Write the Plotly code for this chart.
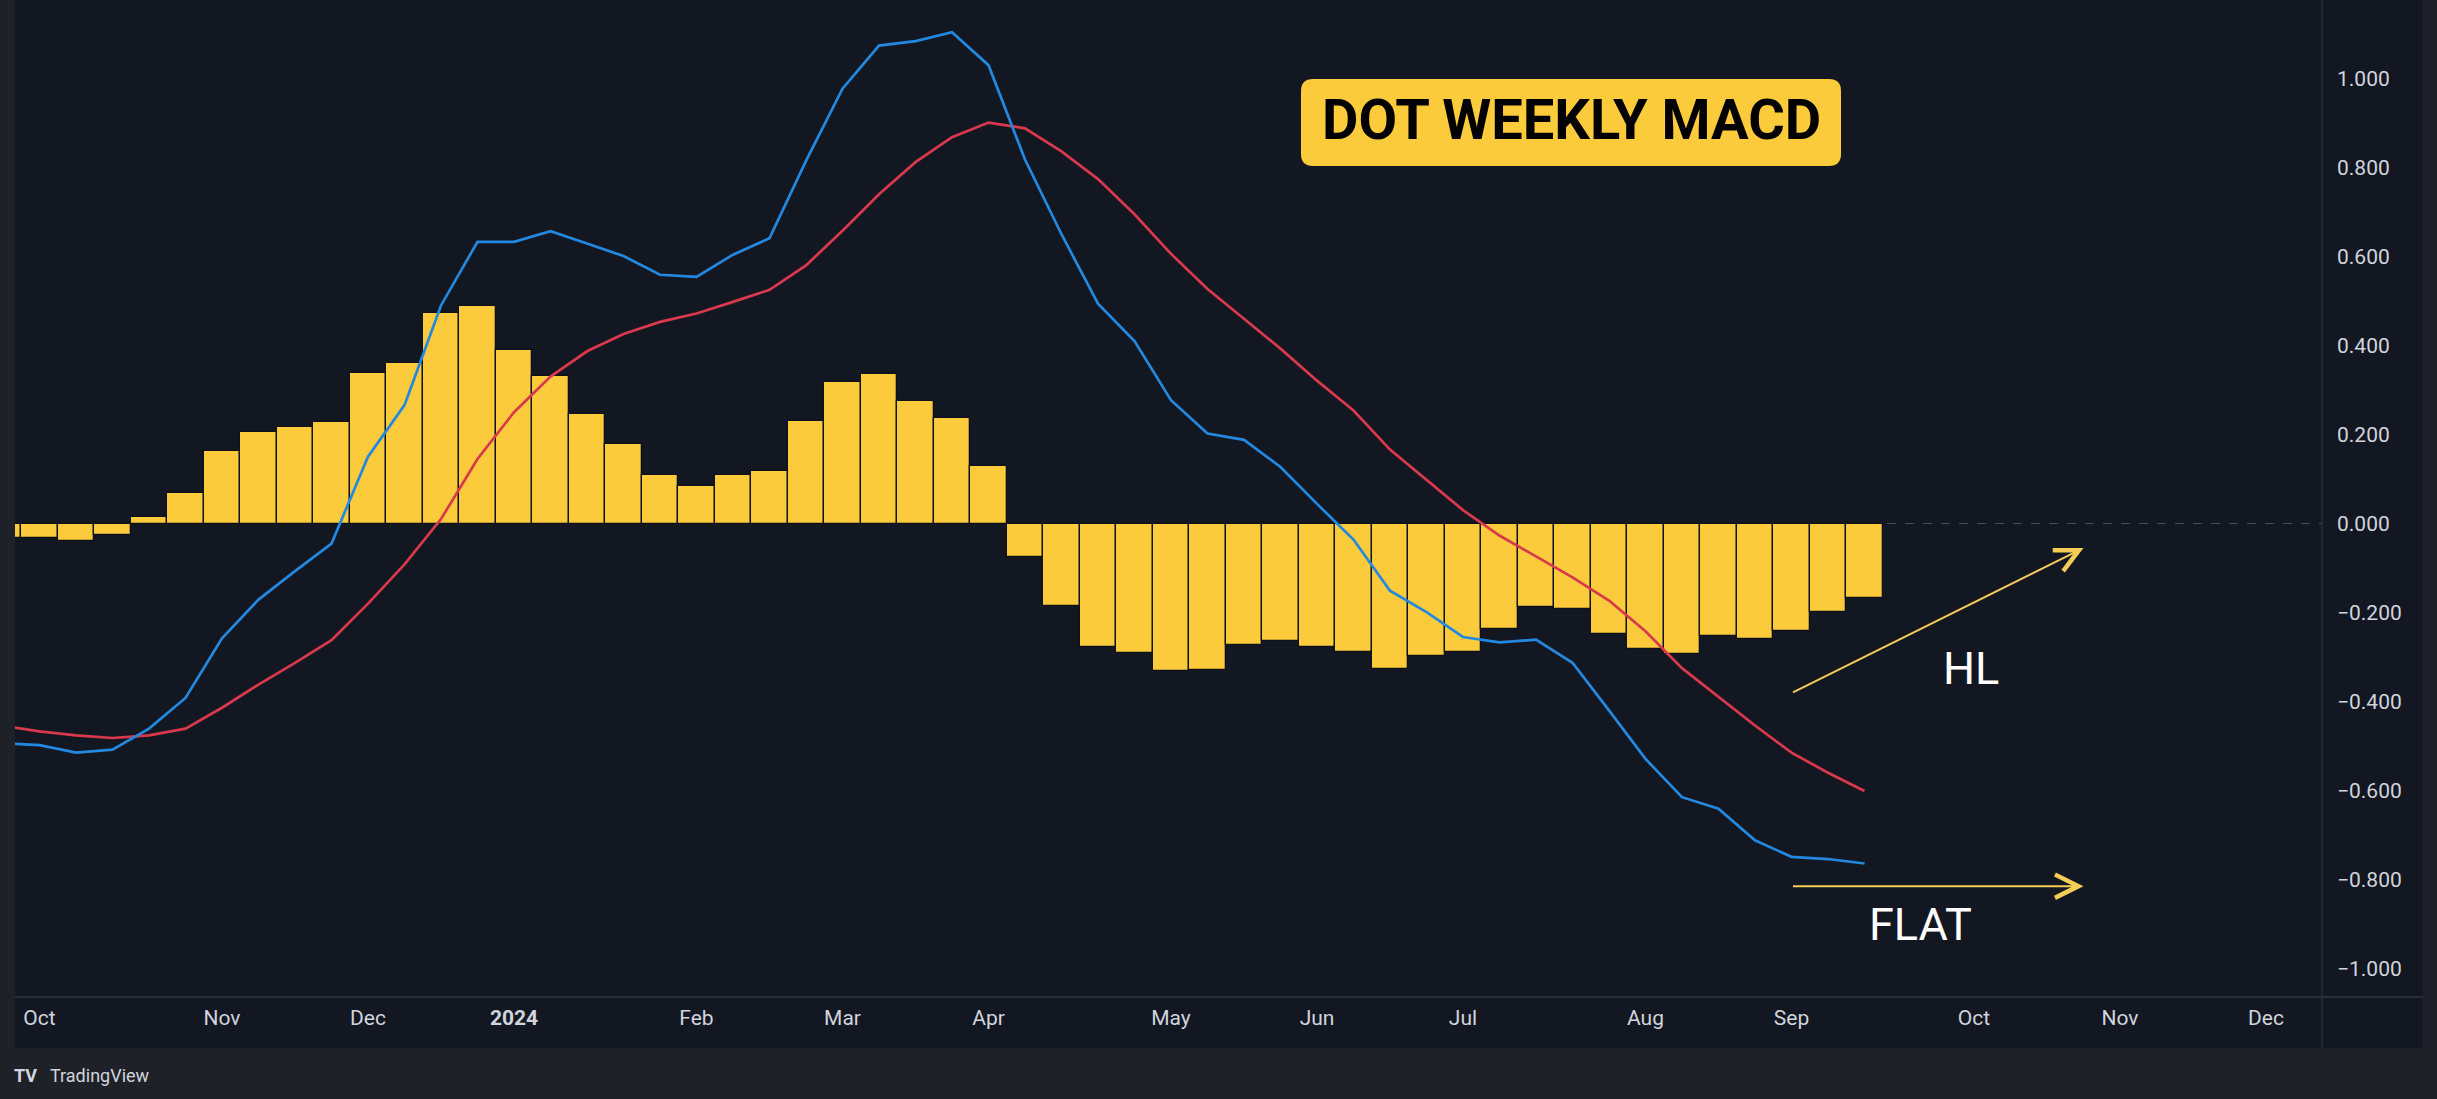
import plotly.graph_objects as go
import pandas as pd

# ---------------- data (weekly bars, Sep 25 2023 .. Sep 16 2024) ----------------
weeks = pd.date_range("2023-09-25", periods=52, freq="7D")

hist = [-0.033, -0.033, -0.040, -0.025, 0.015, 0.068, 0.163, 0.206, 0.217, 0.227,
        0.339, 0.360, 0.472, 0.488, 0.390, 0.332, 0.245, 0.178, 0.108, 0.084,
        0.108, 0.119, 0.231, 0.318, 0.336, 0.276, 0.238, 0.130, -0.075, -0.186,
        -0.277, -0.290, -0.332, -0.329, -0.273, -0.264, -0.277, -0.289, -0.328, -0.298,
        -0.288, -0.237, -0.188, -0.193, -0.249, -0.283, -0.294, -0.253, -0.260, -0.242,
        -0.198, -0.167]

macd = [-0.494, -0.498, -0.515, -0.508, -0.461, -0.392, -0.258, -0.171, -0.107, -0.045,
        0.150, 0.266, 0.490, 0.633, 0.633, 0.657, 0.629, 0.601, 0.559, 0.554,
        0.604, 0.641, 0.815, 0.977, 1.074, 1.084, 1.104, 1.030, 0.818, 0.650,
        0.494, 0.410, 0.277, 0.202, 0.188, 0.127, 0.044, -0.036, -0.151, -0.199,
        -0.255, -0.267, -0.261, -0.313, -0.420, -0.529, -0.615, -0.641, -0.712, -0.749,
        -0.754, -0.764]

signal = [-0.455, -0.467, -0.476, -0.482, -0.476, -0.461, -0.414, -0.362, -0.313, -0.262,
          -0.180, -0.092, 0.010, 0.145, 0.250, 0.330, 0.387, 0.426, 0.453, 0.472,
          0.498, 0.525, 0.580, 0.658, 0.740, 0.812, 0.868, 0.901, 0.888, 0.836,
          0.774, 0.695, 0.606, 0.527, 0.460, 0.393, 0.321, 0.254, 0.166, 0.097,
          0.030, -0.027, -0.074, -0.121, -0.173, -0.242, -0.325, -0.390, -0.454, -0.515,
          -0.560, -0.601]

month_ticks = ["2023-10-02", "2023-11-06", "2023-12-04", "2024-01-01", "2024-02-05",
               "2024-03-04", "2024-04-01", "2024-05-06", "2024-06-03", "2024-07-01",
               "2024-08-05", "2024-09-02", "2024-10-07", "2024-11-04", "2024-12-02"]
month_labels = ["Oct", "Nov", "Dec", "<b>2024</b>", "Feb", "Mar", "Apr", "May", "Jun",
                "Jul", "Aug", "Sep", "Oct", "Nov", "Dec"]

y_ticks = [-1.0, -0.8, -0.6, -0.4, -0.2, 0.0, 0.2, 0.4, 0.6, 0.8, 1.0]

# annotation arrows (data coordinates)
hl_tail = ("2024-09-02", -0.381)
hl_head = ("2024-10-28", -0.055)
flat_tail = ("2024-09-02", -0.815)
flat_head = ("2024-10-28", -0.815)

# ---------------- layout geometry ----------------
W, H = 2437, 1099
PL, PR, PT, PB = 15, 2322, 0, 997          # plot area in pixels
ZERO_PX, PX_PER_UNIT = 523.5, 445.0
BAR_PX, REF_PX = 36.5, 39.5                 # weekly spacing, centre of Oct 2 2023 bar
ref_day = pd.Timestamp("2023-10-02")

def px(x):
    return (x - PL) / (PR - PL)

def py(y):
    return (PB - y) / (PB - PT)

x_left = ref_day + pd.Timedelta(days=7 * (PL - REF_PX) / BAR_PX)
x_right = ref_day + pd.Timedelta(days=7 * (PR - REF_PX) / BAR_PX)
y_top = (ZERO_PX - PT) / PX_PER_UNIT
y_bot = -(PB - ZERO_PX) / PX_PER_UNIT

BG = "#131722"
FRAME = "#1f2129"
BORDER = "#2a2e39"
YELLOW = "#fbcb3b"
TXT = "#d1d4dc"

fig = go.Figure()
fig.add_trace(go.Bar(x=weeks, y=hist, marker=dict(color=YELLOW, line=dict(color="#0e1118", width=1.3)),
                     hoverinfo="skip", showlegend=False))
fig.add_trace(go.Scatter(x=weeks, y=signal, mode="lines", line=dict(color="#d9394c", width=2.7),
                         showlegend=False))
fig.add_trace(go.Scatter(x=weeks, y=macd, mode="lines", line=dict(color="#2389e0", width=2.7),
                         showlegend=False))

shapes = []
# dashed zero line
shapes.append(dict(type="line", xref="paper", yref="y", x0=0, x1=1, y0=0, y1=0,
                   line=dict(color="#4a4e5a", width=1, dash="dash"), layer="below"))
# frame strips
shapes.append(dict(type="rect", xref="paper", yref="paper", x0=px(0), x1=px(PL), y0=py(1048), y1=py(0),
                   fillcolor=FRAME, line=dict(width=0), layer="above"))
shapes.append(dict(type="rect", xref="paper", yref="paper", x0=px(2423), x1=px(W), y0=py(H), y1=py(0),
                   fillcolor=FRAME, line=dict(width=0), layer="above"))
shapes.append(dict(type="rect", xref="paper", yref="paper", x0=px(0), x1=px(W), y0=py(H), y1=py(1048),
                   fillcolor=FRAME, line=dict(width=0), layer="above"))
# borders
shapes.append(dict(type="line", xref="paper", yref="paper", x0=px(PL), x1=px(2423), y0=py(PB), y1=py(PB),
                   line=dict(color=BORDER, width=2)))
shapes.append(dict(type="line", xref="paper", yref="paper", x0=px(PR), x1=px(PR), y0=py(0), y1=py(1048),
                   line=dict(color=BORDER, width=1.5)))

# rounded title box
bx0, bx1, by0, by1, r = 1301, 1841, 79, 166, 12
rx, ry = r / (PR - PL), r / (PB - PT)
X0, X1, Ytop, Ybot = px(bx0), px(bx1), py(by0), py(by1)
path = (f"M{X0+rx},{Ytop} L{X1-rx},{Ytop} Q{X1},{Ytop} {X1},{Ytop-ry} "
        f"L{X1},{Ybot+ry} Q{X1},{Ybot} {X1-rx},{Ybot} L{X0+rx},{Ybot} "
        f"Q{X0},{Ybot} {X0},{Ybot+ry} L{X0},{Ytop-ry} Q{X0},{Ytop} {X0+rx},{Ytop} Z")
shapes.append(dict(type="path", xref="paper", yref="paper", path=path, fillcolor=YELLOW,
                   line=dict(width=0), layer="above"))

annotations = [
    dict(xref="paper", yref="paper", x=px(1571), y=py(120), text="<b>DOT WEEKLY MACD</b>",
         showarrow=False, font=dict(family="Roboto", size=56, color="#000000"),
         xanchor="center", yanchor="middle"),
    dict(xref="paper", yref="paper", x=px(1971), y=py(668), text="HL", showarrow=False,
         font=dict(family="Roboto", size=45, color="#ffffff"), xanchor="center", yanchor="middle"),
    dict(xref="paper", yref="paper", x=px(1920), y=py(924), text="FLAT", showarrow=False,
         font=dict(family="Roboto", size=45, color="#ffffff"), xanchor="center", yanchor="middle"),
    dict(xref="paper", yref="paper", x=px(48), y=py(1075), text="TradingView", showarrow=False,
         font=dict(family="Roboto", size=18, color=TXT), xanchor="left", yanchor="middle"),
    dict(xref="paper", yref="paper", x=px(12), y=py(1075), text="<b>TV</b>", showarrow=False,
         font=dict(family="Roboto", size=18, color=TXT), xanchor="left", yanchor="middle"),
]
for tail, head in [(hl_tail, hl_head), (flat_tail, flat_head)]:
    annotations.append(dict(x=head[0], y=head[1], ax=tail[0], ay=tail[1], xref="x", yref="y",
                            axref="x", ayref="y", text="", showarrow=True, arrowhead=5,
                            arrowsize=2.3, arrowwidth=2, arrowcolor="#f3cd55",
                            standoff=0, startstandoff=0))

fig.update_layout(
    width=W, height=H, autosize=False,
    margin=dict(l=PL, r=W - PR, t=PT, b=H - PB, pad=0),
    paper_bgcolor=BG, plot_bgcolor=BG,
    bargap=0, showlegend=False,
    shapes=shapes, annotations=annotations,
    font=dict(family="Roboto", color=TXT),
    xaxis=dict(type="date", range=[x_left, x_right], showgrid=False, zeroline=False,
               showline=False, ticks="", tickvals=month_ticks, ticktext=month_labels,
               tickfont=dict(size=21, color=TXT), ticklabelstandoff=6, fixedrange=True),
    yaxis=dict(side="right", range=[y_bot, y_top], showgrid=False, zeroline=False,
               showline=False, ticks="", tickvals=y_ticks, tickformat=".3f",
               tickfont=dict(size=21, color=TXT), ticklabelstandoff=14, fixedrange=True),
)

fig.write_html("out.html", config={"displayModeBar": False},
               post_script="document.body.style.margin='0';document.body.style.overflow='hidden';")
